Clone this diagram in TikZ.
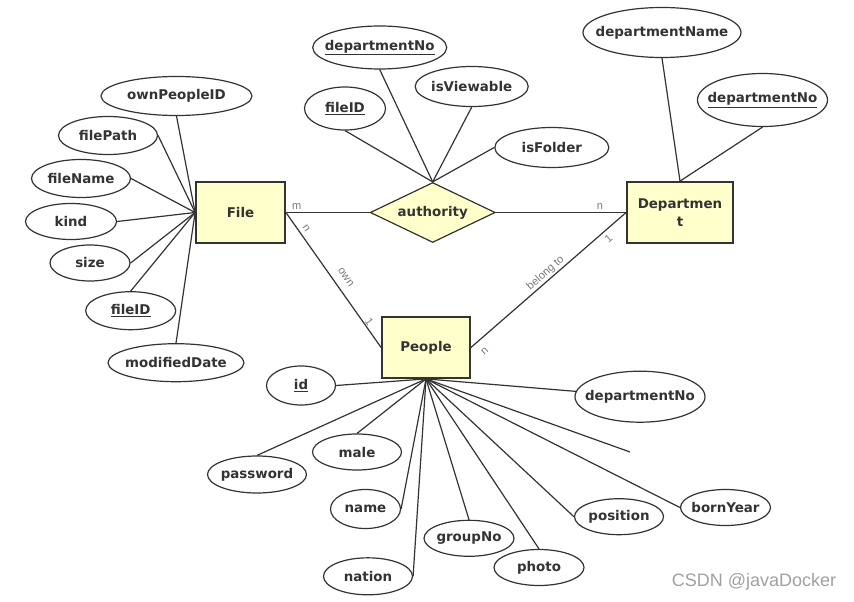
\documentclass[tikz,border=0pt]{standalone}
\usepackage{fontspec}
\setsansfont{DejaVu Sans}
\newfontfamily\lblfont{Liberation Sans}
\usetikzlibrary{shapes.geometric}
\definecolor{ink}{RGB}{51,51,51}
\definecolor{boxfill}{RGB}{255,255,204}
\definecolor{tagcol}{RGB}{120,120,120}
\definecolor{wmcol}{RGB}{160,160,160}
\newcommand{\fld}[1]{\makebox[0pt]{#1}}

\begin{document}
\begin{tikzpicture}[x=1pt,y=-1pt]
\tikzstyle{every node}+=[inner sep=0pt, text=ink]
\tikzstyle{entity}=[draw=ink, fill=boxfill, line width=1.8pt, font=\sffamily\bfseries\fontsize{13.4}{17.5}\selectfont]
\tikzstyle{rel}=[diamond, aspect=2, draw=ink, fill=boxfill, line width=1.2pt, font=\sffamily\bfseries\fontsize{13.4}{16}\selectfont]
\tikzstyle{attr}=[ellipse, draw=ink, fill=white, line width=1.2pt, font=\sffamily\bfseries\fontsize{13.4}{16}\selectfont]
\tikzstyle{link}=[draw=ink, line width=1.2pt]
\tikzstyle{tag}=[font=\lblfont\fontsize{11}{13}\selectfont, text=tagcol]
\useasboundingbox (0,0) rectangle (854,602);
% entities and relation
\node[entity, minimum width=89, minimum height=61] (file) at (240.5,212.5) {File};
\node[entity, minimum width=106, minimum height=61, align=center] (dept) at (680,212.5) {Departmen\\t};
\node[entity, minimum width=88, minimum height=61] (people) at (426,347.5) {People};
\node[rel, minimum width=125, minimum height=60] (auth) at (432.7,212.5) {\fld{authority}};
% File attributes
\node[attr, minimum width=151, minimum height=39] (ownpeopleid) at (176.5,96) {\fld{ownPeopleID}};
\node[attr, minimum width=99, minimum height=38] (filepath) at (108,135.5) {\fld{filePath}};
\node[attr, minimum width=99, minimum height=38] (filename) at (81,178.5) {\fld{fileName}};
\node[attr, minimum width=91, minimum height=36] (kind) at (71,221.5) {\fld{kind}};
\node[attr, minimum width=80, minimum height=36] (size) at (90,263) {\fld{size}};
\node[attr, minimum width=90, minimum height=38] (fileid) at (130.7,310.7) {\fld{\underline{fileID}}};
\node[attr, minimum width=136, minimum height=38] (modifieddate) at (176,362.7) {\fld{modifiedDate}};
% authority attributes
\node[attr, minimum width=134, minimum height=43] (authdeptno) at (379.7,47.5) {\fld{\underline{departmentNo}}};
\node[attr, minimum width=113, minimum height=40] (isviewable) at (471.7,86.5) {\fld{isViewable}};
\node[attr, minimum width=81, minimum height=43] (authfileid) at (345,108.5) {\fld{\underline{fileID}}};
\node[attr, minimum width=114, minimum height=40] (isfolder) at (551.8,147.5) {\fld{isFolder}};
% Department attributes
\node[attr, minimum width=158, minimum height=50] (deptname) at (662,32.5) {\fld{departmentName}};
\node[attr, minimum width=130, minimum height=53] (deptno) at (762.5,100) {\fld{\underline{departmentNo}}};
% People attributes
\node[attr, minimum width=69, minimum height=39] (id) at (301,385.5) {\fld{\underline{id}}};
\node[attr, minimum width=130, minimum height=51] (peopledeptno) at (640,396.7) {\fld{departmentNo}};
\node[attr, minimum width=99, minimum height=37] (password) at (257,474.5) {\fld{password}};
\node[attr, minimum width=89, minimum height=36] (male) at (357,452) {\fld{male}};
\node[attr, minimum width=70, minimum height=39] (name) at (365.5,509) {\fld{name}};
\node[attr, minimum width=89, minimum height=37] (nation) at (368,576.3) {\fld{nation}};
\node[attr, minimum width=90, minimum height=36] (groupno) at (469,538.3) {\fld{groupNo}};
\node[attr, minimum width=90, minimum height=36] (photo) at (539,567.5) {\fld{photo}};
\node[attr, minimum width=89, minimum height=36] (position) at (619,516.7) {\fld{position}};
\node[attr, minimum width=90, minimum height=36] (bornyear) at (725.5,507.5) {\fld{bornYear}};
\coordinate (looseend) at (630,452);
% File links
\draw[link] (ownpeopleid.south) -- (file.west);
\draw[link] (filepath.east) -- (file.west);
\draw[link] (filename.east) -- (file.west);
\draw[link] (kind.east) -- (file.west);
\draw[link] (size.east) -- (file.west);
\draw[link] (fileid.north) -- (file.west);
\draw[link] (modifieddate.north) -- (file.west);
% authority links
\draw[link] (authfileid.south) -- (auth.north);
\draw[link] (authdeptno.south) -- (auth.north);
\draw[link] (isviewable.south) -- (auth.north);
\draw[link] (isfolder.west) -- (auth.north);
% Department links
\draw[link] (deptname.south) -- (dept.north);
\draw[link] (deptno.south) -- (dept.north);
% People links
\draw[link] (people.south) -- (id.east);
\draw[link] (people.south) -- (peopledeptno);
\draw[link] (people.south) -- (looseend);
\draw[link] (people.south) -- (password.north);
\draw[link] (people.south) -- (male.north);
\draw[link] (people.south) -- (name.east);
\draw[link] (people.south) -- (nation.east);
\draw[link] (people.south) -- (groupno.north);
\draw[link] (people.south) -- (photo.north);
\draw[link] (people.south) -- (position.west);
\draw[link] (people.south) -- (bornyear.west);
% relationships
\draw[link] (file.east) -- node[tag, pos=0.13, above=2pt] {m} (auth.west);
\draw[link] (auth.east) -- node[tag, pos=0.8, above=2pt] {n} (dept.west);
\draw[link] (file.east) -- node[tag, sloped, pos=0.15, above=4pt] {n} node[tag, sloped, pos=0.53, above=8pt] {own} node[tag, sloped, pos=0.83, above=1pt] {1} (people.west);
\draw[link] (people.east) -- node[tag, sloped, pos=0.04, below=8pt] {n} node[tag, sloped, pos=0.51, above=1pt] {belong to} node[tag, sloped, pos=0.85, below=4pt] {1} (dept.west);
\node[font=\lblfont\fontsize{18}{20}\selectfont, text=wmcol] (csdn) at (754,581.7) {CSDN @javaDocker};
\end{tikzpicture}
\end{document}
